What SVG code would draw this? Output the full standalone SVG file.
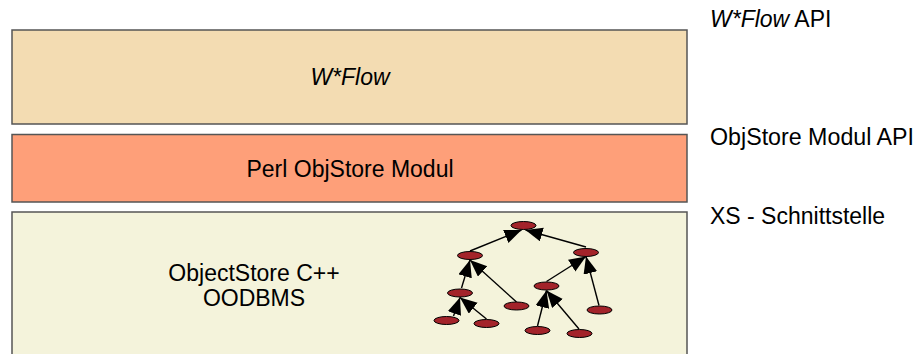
<svg xmlns="http://www.w3.org/2000/svg" width="916" height="354" viewBox="0 0 916 354">
<style>
.t{font-family:"Liberation Sans",Arial,sans-serif;font-size:23px;fill:#000}
.i{font-style:italic}
.box{stroke:#555;stroke-width:1.5}
.n{fill:#a3232a;stroke:#000;stroke-width:1}
.e{stroke:#000;stroke-width:1.4;fill:none;marker-end:url(#ah)}
</style>
<defs>
<marker id="ah" markerUnits="userSpaceOnUse" markerWidth="18" markerHeight="15" refX="17" refY="7" orient="auto">
<path d="M0,0 L17,7 L0,14 Z" fill="#000"/>
</marker>
</defs>
<rect width="916" height="354" fill="#fff"/>
<g id="wflow">
<rect class="box" x="12" y="30" width="675" height="94" fill="#f3dcb2"/>
<text class="t i" x="350" y="85" text-anchor="middle">W*Flow</text>
</g>
<g id="perl">
<rect class="box" x="12" y="134.5" width="675" height="67.5" fill="#fe9f79" stroke="#222"/>
<text class="t" x="350" y="177" text-anchor="middle">Perl ObjStore Modul</text>
</g>
<g id="objectstore">
<rect class="box" x="12" y="212" width="675" height="160" fill="#f4f3db"/>
<text class="t" x="254" y="281" text-anchor="middle">ObjectStore C++</text>
<text class="t" x="254" y="306" text-anchor="middle">OODBMS</text>
</g>
<g id="labels">
<text class="t" x="710" y="27"><tspan class="i">W*Flow</tspan> API</text>
<text class="t" x="710" y="145" textLength="204" lengthAdjust="spacingAndGlyphs">ObjStore Modul API</text>
<text class="t" x="710" y="224">XS - Schnittstelle</text>
</g>
<g id="connectors">
<line class="e" x1="470" y1="251" x2="521.5" y2="230"/>
<line class="e" x1="586" y1="247" x2="525.5" y2="230"/>
<line class="e" x1="461.5" y1="288" x2="470" y2="260"/>
<line class="e" x1="516.5" y1="302" x2="470" y2="260"/>
<line class="e" x1="453.5" y1="316" x2="460" y2="297.5"/>
<line class="e" x1="486.5" y1="319" x2="460" y2="297.5"/>
<line class="e" x1="546.5" y1="281.5" x2="586" y2="256.5"/>
<line class="e" x1="599" y1="305.5" x2="586" y2="256.5"/>
<line class="e" x1="537.5" y1="326" x2="546.5" y2="290.5"/>
<line class="e" x1="579" y1="329" x2="546.5" y2="290.5"/>
</g>
<g id="tree">
<ellipse class="n" cx="523.5" cy="225.5" rx="12.5" ry="4"/>
<ellipse class="n" cx="470" cy="255.5" rx="12.5" ry="4"/>
<ellipse class="n" cx="586" cy="252.5" rx="12.5" ry="4"/>
<ellipse class="n" cx="460" cy="293" rx="12.5" ry="4"/>
<ellipse class="n" cx="516.5" cy="306" rx="12.5" ry="4"/>
<ellipse class="n" cx="546.5" cy="286" rx="12.5" ry="4"/>
<ellipse class="n" cx="599.5" cy="310" rx="12.5" ry="4"/>
<ellipse class="n" cx="446.5" cy="320.5" rx="12.5" ry="4"/>
<ellipse class="n" cx="486.5" cy="323.5" rx="12.5" ry="4"/>
<ellipse class="n" cx="537.5" cy="330.5" rx="12.5" ry="4"/>
<ellipse class="n" cx="579.5" cy="333.5" rx="12.5" ry="4"/>
</g>
</svg>
